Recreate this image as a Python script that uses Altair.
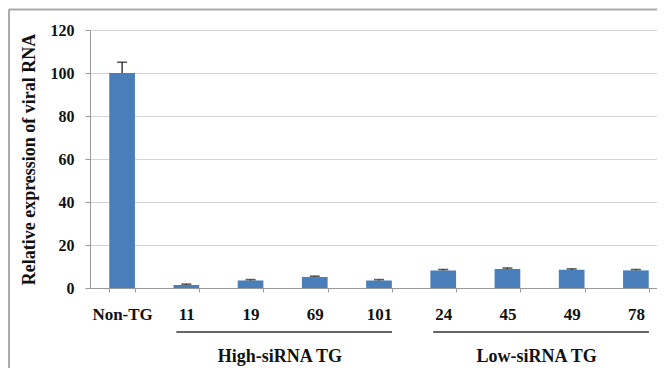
import altair as alt
import pandas as pd

# ---- data ----
categories = ["Non-TG", "11", "19", "69", "101", "24", "45", "49", "78"]
values = [100.0, 1.4, 3.5, 5.1, 3.5, 8.1, 8.8, 8.5, 8.2]
errors = [5.0, 0.4, 0.4, 0.4, 0.4, 0.5, 0.5, 0.4, 0.4]

group_labels = ["High-siRNA TG", "Low-siRNA TG"]
group_start = ["11", "24"]
group_end = ["101", "78"]
group_label_at = ["69", "49"]

y_ticks = [0, 20, 40, 60, 80, 100, 120]

FONT = "'Liberation Serif', 'Times New Roman', 'DejaVu Serif', serif"
BAR = "#4a7ebb"

df = pd.DataFrame({"cat": categories, "value": values, "err": errors})
df["top"] = df["value"] + df["err"]
groups = pd.DataFrame({"label": group_labels, "start": group_start,
                       "end": group_end, "at": group_label_at})

W, H = 567, 258

xscale = alt.Scale(domain=categories, range=[0, 578],
                   paddingInner=0.6, paddingOuter=0.3)
yscale = alt.Scale(domain=[0, 120], nice=False)

x_axis = alt.Axis(title=None, labelAngle=0, labelFont=FONT, labelFontSize=17,
                  labelFontWeight="bold", labelColor="#111", tickBand="extent",
                  tickSize=4, tickColor="#9a9a9a", domainColor="#9a9a9a",
                  labelPadding=14, grid=False)
y_axis = alt.Axis(title="Relative expression of viral RNA", values=y_ticks,
                  labelFont=FONT, labelFontSize=16, labelFontWeight="bold",
                  labelColor="#111", titleFont=FONT, titleFontSize=18,
                  titleFontWeight="bold", titleColor="#111", titlePadding=12,
                  tickSize=5, tickColor="#9a9a9a", domainColor="#9a9a9a",
                  gridColor="#d4d4d4", labelPadding=11)

base = alt.Chart(df)

bars = base.mark_bar(color=BAR).encode(
    x=alt.X("cat:N", scale=xscale, axis=x_axis, sort=categories),
    y=alt.Y("value:Q", scale=yscale, axis=y_axis),
)

err_rule = base.mark_rule(color="#1a1a1a", strokeWidth=1.3).encode(
    x=alt.X("cat:N", sort=categories),
    y="value:Q",
    y2="top:Q",
)
err_cap = base.mark_tick(color="#1a1a1a", orient="horizontal", size=10,
                         thickness=1.6).encode(
    x=alt.X("cat:N", sort=categories),
    y="top:Q",
)

brackets = alt.Chart(groups).mark_rule(color="#333", strokeWidth=1.4,
                                       xOffset=-10, x2Offset=13).encode(
    x=alt.X("start:N", sort=categories),
    x2="end:N",
    y=alt.value(302),
)

group_text = alt.Chart(groups).mark_text(font=FONT, fontSize=18,
                                         fontWeight="bold", color="#111",
                                         dx=-35, baseline="middle").encode(
    x=alt.X("at:N", sort=categories),
    y=alt.value(327),
    text="label:N",
)

frame_top = alt.Chart(groups).mark_rule(color="#a6a6a6", strokeWidth=1.5).encode(
    x=alt.value(-81), x2=alt.value(700), y=alt.value(-20.5))
frame_left = alt.Chart(groups).mark_rule(color="#a6a6a6", strokeWidth=1.5).encode(
    x=alt.value(-81), y=alt.value(-20.5), y2=alt.value(400))

chart = alt.layer(bars, err_rule, err_cap, brackets, group_text,
                  frame_top, frame_left).properties(
    width=W, height=H,
    autosize=alt.AutoSizeParams(type="none"),
    padding={"left": 82, "top": 22, "right": 0, "bottom": 80},
).configure_view(stroke=None).configure(background="white")

chart.save("out.html", embed_options={"renderer": "svg", "actions": False})
